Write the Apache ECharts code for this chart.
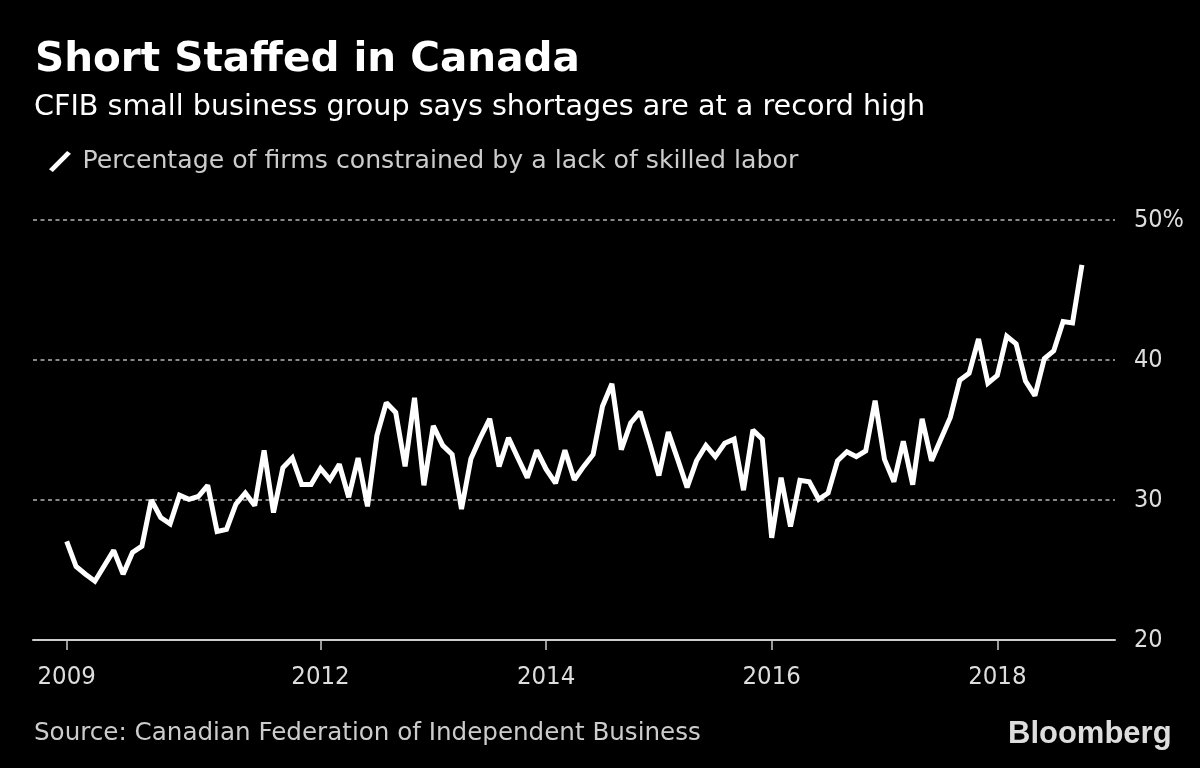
<!DOCTYPE html>
<html>
<head>
<meta charset="utf-8">
<script src="https://cdn.jsdelivr.net/npm/echarts@6/dist/echarts.min.js"></script>
<style>
html,body{margin:0;padding:0;background:#000;}
#chart{width:1200px;height:768px;}
</style>
</head>
<body>
<div id="chart"></div>
<script>
// Monthly readings, Oct 2009 - Oct 2018 (index 0..108)
const shortageValues = [
  27.05, 25.25, 24.7, 24.2, 25.3, 26.4, 24.7, 26.25, 26.7, 30.0,
  28.75, 28.3, 30.35, 30.05, 30.25, 31.05, 27.75, 27.9, 29.7, 30.5,
  29.6, 33.55, 29.1, 32.3, 33.0, 31.1, 31.1, 32.25, 31.45, 32.55,
  30.2, 33.0, 29.55, 34.6, 36.95, 36.25, 32.4, 37.3, 31.05, 35.3,
  33.9, 33.25, 29.35, 32.95, 34.45, 35.8, 32.4, 34.45, 33.0, 31.6,
  33.55, 32.2, 31.2, 33.55, 31.45, 32.4, 33.25, 36.7, 38.3, 33.6,
  35.5, 36.3, 34.1, 31.75, 34.85, 32.9, 30.9, 32.8, 33.9, 33.1,
  34.05, 34.35, 30.7, 35.0, 34.35, 27.3, 31.6, 28.1, 31.4, 31.3,
  30.05, 30.5, 32.8, 33.45, 33.1, 33.5, 37.1, 32.9, 31.3, 34.2,
  31.1, 35.8, 32.8, 34.35, 35.9, 38.55, 39.05, 41.5, 38.35, 38.9,
  41.7, 41.15, 38.5, 37.45, 40.1, 40.65, 42.75, 42.65, 46.8
];
const tickIndices = [0, 27, 51, 75, 99];
const tickLabels = ['2009', '2012', '2014', '2016', '2018'];
const yTicks = [20, 30, 40, 50];

const FONT = "'DejaVu Sans', sans-serif";
const FONT_NUM = "'DejaVu Sans Condensed', 'DejaVu Sans', sans-serif";
const seriesData = shortageValues.map((v, i) => [i, v]);

const chart = echarts.init(document.getElementById('chart'), null, {renderer: 'canvas'});
chart.setOption({
  backgroundColor: '#000',
  animation: false,
  title: [
    {
      text: 'Short Staffed in Canada',
      left: 35, top: 40, padding: 0,
      textStyle: {color: '#fff', fontFamily: FONT, fontWeight: 'bold', fontSize: 40.5, lineHeight: 40.5}
    },
    {
      text: 'CFIB small business group says shortages are at a record high',
      left: 34, top: 93, padding: 0,
      textStyle: {color: '#fff', fontFamily: FONT, fontWeight: 'normal', fontSize: 28.6, lineHeight: 28.6}
    },
    {
      text: 'Source: Canadian Federation of Independent Business',
      left: 34, top: 721, padding: 0,
      textStyle: {color: '#ccc', fontFamily: FONT, fontWeight: 'normal', fontSize: 24.6, lineHeight: 24.6}
    },
    {
      text: 'Bloomberg',
      left: 1008, top: 719, padding: 0,
      textStyle: {color: '#ddd', fontFamily: "'Liberation Sans', Arial, sans-serif", fontWeight: 'bold', fontSize: 31, lineHeight: 31}
    }
  ],
  legend: {
    left: 49, top: 149, padding: 0,
    itemWidth: 23, itemHeight: 21,
    icon: 'path://M0,19 L19,0 L23,3 L4,22 Z',
    data: [{name: 'Percentage of firms constrained by a lack of skilled labor', itemStyle: {color: '#fff'}}],
    textStyle: {color: '#ccc', fontFamily: FONT, fontSize: 25.2, lineHeight: 25, padding: [0, 0, 0, 6]}
  },
  grid: {left: 33, right: 85, top: 220, bottom: 128, containLabel: false},
  xAxis: {
    type: 'value',
    min: -3.585, max: 111.52,
    axisLine: {show: true, lineStyle: {color: '#ccc', width: 2}},
    axisTick: {show: true, customValues: tickIndices, length: 10, lineStyle: {color: '#ccc', width: 1.5}},
    axisLabel: {
      show: true, customValues: tickIndices, margin: 25,
      color: '#ddd', fontFamily: FONT_NUM, fontSize: 25.5, lineHeight: 25,
      formatter: v => tickLabels[tickIndices.indexOf(Math.round(v))] || ''
    },
    splitLine: {show: false}
  },
  yAxis: {
    type: 'value', position: 'right',
    min: 20, max: 50, interval: 10,
    axisLine: {show: false}, axisTick: {show: false},
    axisLabel: {
      margin: 19, color: '#ddd', fontFamily: FONT_NUM, fontSize: 25,
      formatter: v => (v === yTicks[yTicks.length - 1] ? v + '%' : String(v))
    },
    splitLine: {show: true, showMinLine: false, lineStyle: {color: '#888', width: 2, type: [4, 3.5]}}
  },
  series: [{
    name: 'Percentage of firms constrained by a lack of skilled labor',
    type: 'line',
    data: seriesData,
    symbol: 'none',
    lineStyle: {color: '#fff', width: 5, join: 'miter', miterLimit: 2, cap: 'butt'},
    itemStyle: {color: '#fff'}
  }]
});
</script>
</body>
</html>
